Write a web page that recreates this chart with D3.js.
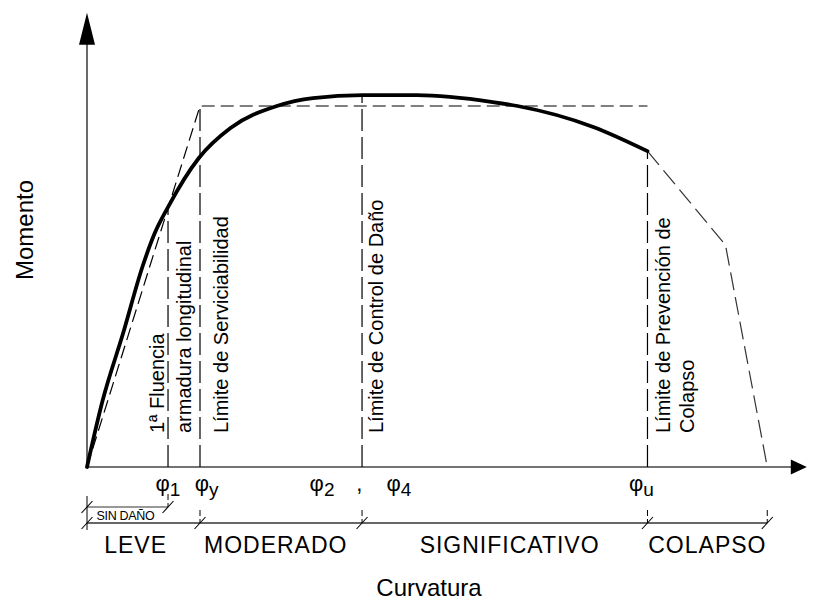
<!DOCTYPE html>
<html>
<head>
<meta charset="utf-8">
<script src="https://cdn.jsdelivr.net/npm/d3@7"></script>
<style>
  html, body { margin: 0; padding: 0; background: #fff; }
  svg { display: block; }
  text { font-family: "Liberation Sans", Arial, sans-serif; fill: #000; }
</style>
</head>
<body>
<svg id="chart" width="814" height="601"></svg>
<script>
// ---------- data (normalised: phi / phi_y , M / M_y) ----------
const curvePhi = [0, 0.14, 0.32, 0.49, 0.60, 0.717, 0.99, 1.27, 1.68, 2.0, 2.44, 2.92, 3.59, 3.81, 4.48, 4.96];
const curveM   = [0, 0.186, 0.371, 0.554, 0.648, 0.72, 0.856, 0.939, 1.0, 1.022, 1.030, 1.030, 1.011, 1.0, 0.942, 0.875];

const bilinPhi = [0, 1, 4.96];
const bilinM   = [0, 1, 1];

const collapsePhi = [4.96, 5.65, 6.02];
const collapseM   = [0.875, 0.615, 0];

const limitPhi = [0.717, 1.0, 2.434, 4.96];
const limitTopM = [0.72, 1.0, 1.03, 0.875];

const phiLabels = [
  {main: "φ", sub: "1", at: 0.717},
  {main: "φ", sub: "y", at: 1.058},
  {main: "φ", sub: "2", at: 2.08},
  {main: ",", sub: "",  at: 2.41},
  {main: "φ", sub: "4", at: 2.76},
  {main: "φ", sub: "u", at: 4.907}
];

const stateBounds = [0, 1.0, 2.434, 4.96, 6.02];
const stateNames  = ["LEVE", "MODERADO", "SIGNIFICATIVO", "COLAPSO"];
const stateLabelAt = [0.43, 1.67, 3.74, 5.49];
const sinDanoBounds = [0, 0.717];
const sinDanoLabel = "SIN DAÑO";

const verticalLabels = [
  {lines: ["1ª Fluencia"], at: 0.717, dx: [-4]},
  {lines: ["armadura longitudinal"], at: 0.717, dx: [23]},
  {lines: ["Límite de Serviciabilidad"], at: 1.0, dx: [28]},
  {lines: ["Límite de Control de Daño"], at: 2.434, dx: [21]},
  {lines: ["Límite de Prevención de", "Colapso"], at: 4.96, dx: [23, 47]}
];

const xAxisMax = 6.37;
const yAxisMax = 1.258;

// ---------- scales ----------
const x = d3.scaleLinear().domain([0, 1]).range([87, 200]);
const y = d3.scaleLinear().domain([0, 1]).range([467, 106]);

const svg = d3.select("#chart");
svg.append("rect").attr("width", 814).attr("height", 601).attr("fill", "#fff");

const line = d3.line().x(d => x(d[0])).y(d => y(d[1]));

// ---------- axes ----------
const axisColor = "#444";
svg.append("line")
  .attr("x1", x(0)).attr("y1", y(0))
  .attr("x2", x(xAxisMax) - 14).attr("y2", y(0))
  .attr("stroke", axisColor).attr("stroke-width", 1.6);
svg.append("line")
  .attr("x1", x(0)).attr("y1", y(0))
  .attr("x2", x(0)).attr("y2", y(yAxisMax) + 30)
  .attr("stroke", axisColor).attr("stroke-width", 1.6);
// arrowheads
svg.append("path")
  .attr("d", `M${x(xAxisMax)},${y(0)} L${x(xAxisMax) - 16},${y(0) - 7.5} L${x(xAxisMax) - 16},${y(0) + 7.5} Z`)
  .attr("fill", "#000");
svg.append("path")
  .attr("d", `M${x(0)},${y(yAxisMax)} L${x(0) - 8},${y(yAxisMax) + 32} L${x(0) + 8},${y(yAxisMax) + 32} Z`)
  .attr("fill", "#000");

// ---------- dashed limit lines ----------
limitPhi.forEach((p, i) => {
  svg.append("line")
    .attr("x1", x(p)).attr("y1", y(0))
    .attr("x2", x(p)).attr("y2", y(limitTopM[i]))
    .attr("stroke", "#000").attr("stroke-width", 1.2)
    .attr("stroke-dasharray", "22,6");
});

// ---------- bilinear idealisation ----------
svg.append("path")
  .datum(bilinPhi.map((p, i) => [p, bilinM[i]]))
  .attr("d", line)
  .attr("fill", "none").attr("stroke", "#000").attr("stroke-width", 1.2)
  .attr("stroke-dasharray", "13,6");

// ---------- collapse branch ----------
svg.append("path")
  .datum(collapsePhi.map((p, i) => [p, collapseM[i]]))
  .attr("d", line)
  .attr("fill", "none").attr("stroke", "#333").attr("stroke-width", 1.2)
  .attr("stroke-dasharray", "18,7");

// ---------- moment-curvature curve ----------
svg.append("path")
  .datum(curvePhi.map((p, i) => [p, curveM[i]]))
  .attr("d", line.curve(d3.curveMonotoneX))
  .attr("fill", "none").attr("stroke", "#000").attr("stroke-width", 3.8)
  .attr("stroke-linecap", "round");

// ---------- vertical labels ----------
verticalLabels.forEach(v => {
  v.lines.forEach((t, j) => {
    svg.append("text")
      .attr("transform", `translate(${x(v.at) + v.dx[j]},433) rotate(-90)`)
      .attr("font-size", 20)
      .attr("text-anchor", "start")
      .text(t);
  });
});

// ---------- phi labels ----------
phiLabels.forEach(l => {
  const t = svg.append("text")
    .attr("x", x(l.at)).attr("y", 491)
    .attr("text-anchor", "middle")
    .attr("font-size", 22);
  t.append("tspan").text(l.main);
  if (l.sub) t.append("tspan").attr("dy", 5).attr("font-size", 19).text(l.sub);
});

// ---------- damage-state brackets ----------
function tick(px, py, stubTop) {
  svg.append("line")
    .attr("x1", px - 5.5).attr("y1", py + 6)
    .attr("x2", px + 5.5).attr("y2", py - 6)
    .attr("stroke", "#000").attr("stroke-width", 1.1);
  svg.append("line")
    .attr("x1", px).attr("y1", stubTop)
    .attr("x2", px).attr("y2", py)
    .attr("stroke", "#000").attr("stroke-width", 1).attr("stroke-dasharray", "6,3");
}
const yBracket = 523, ySin = 507;
svg.append("line")
  .attr("x1", x(stateBounds[0])).attr("y1", yBracket)
  .attr("x2", x(stateBounds[stateBounds.length - 1])).attr("y2", yBracket)
  .attr("stroke", "#333").attr("stroke-width", 1.3);
stateBounds.forEach((b, i) => { if (i > 0) tick(x(b), yBracket, 510); });
svg.append("line")
  .attr("x1", x(sinDanoBounds[0])).attr("y1", ySin)
  .attr("x2", x(sinDanoBounds[1])).attr("y2", ySin)
  .attr("stroke", "#333").attr("stroke-width", 1.1);
tick(x(sinDanoBounds[1]), ySin, 494);
// left end vertical
svg.append("line")
  .attr("x1", x(0)).attr("y1", 496).attr("x2", x(0)).attr("y2", 530)
  .attr("stroke", "#000").attr("stroke-width", 1);
tick(x(0), ySin, ySin);
tick(x(0), yBracket, yBracket);

svg.append("text")
  .attr("x", (x(sinDanoBounds[0]) + x(sinDanoBounds[1])) / 2 - 2).attr("y", 520)
  .attr("text-anchor", "middle").attr("font-size", 12.5)
  .attr("letter-spacing", -0.3)
  .text(sinDanoLabel);

stateNames.forEach((n, i) => {
  svg.append("text")
    .attr("x", x(stateLabelAt[i])).attr("y", 553)
    .attr("text-anchor", "middle").attr("font-size", 23)
    .attr("letter-spacing", 1)
    .text(n);
});

// ---------- axis titles ----------
svg.append("text")
  .attr("x", 429).attr("y", 596)
  .attr("text-anchor", "middle").attr("font-size", 24)
  .text("Curvatura");
svg.append("text")
  .attr("transform", "translate(33,230) rotate(-90)")
  .attr("text-anchor", "middle").attr("font-size", 24)
  .text("Momento");
</script>
</body>
</html>
